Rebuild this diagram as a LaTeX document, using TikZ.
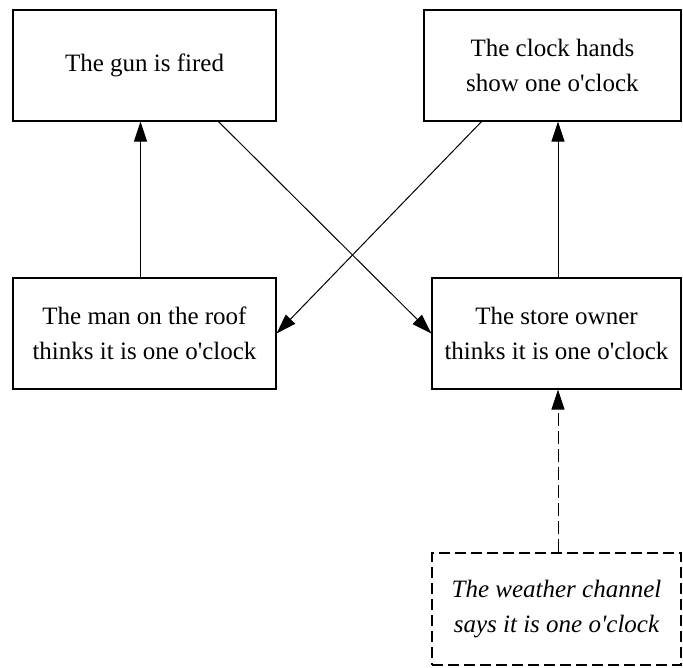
\documentclass[tikz,border=0pt]{standalone}
\usepackage{fontspec}
\setmainfont{Liberation Serif}
\usetikzlibrary{calc,arrows.meta}
\tikzset{
    event/.style={
        draw, rectangle, line width=1.2pt,
        minimum height=111pt, inner sep=0pt,
        align=center, text=black,
        font=\fontsize{25}{35}\selectfont
    },
    report/.style={
        event, dash pattern=on 11pt off 5pt
    }
}

\begin{document}
\begin{tikzpicture}[
        x=1pt, y=-1pt,
        link/.style={line width=1pt, -{Triangle[length=20pt,width=13pt]}}
      ]
  \useasboundingbox (0,0) rectangle (683,667);

  \node[event, minimum width=263pt] (gun)   at (144.5,65.5)  {The gun is fired};
  \node[event, minimum width=257pt] (clock) at (552.5,65.5)  {The clock hands\\show one o\textquotesingle clock};
  \node[event, minimum width=263pt] (roof)  at (144.5,333.5) {The man on the roof\\thinks it is one o\textquotesingle clock};
  \node[event, minimum width=249pt] (owner) at (556.5,333.5) {The store owner\\thinks it is one o\textquotesingle clock};
  \node[report, minimum width=249pt, minimum height=112pt] (weather) at (556.5,609)
      {\itshape The weather channel\\\itshape says it is one o\textquotesingle clock};

  \draw[link] ($(roof.north)+(-4,0)$) -- ($(roof.north |- gun.south)+(-4,0)$);
  \draw[link] ($(owner.north)+(1.5,0)$) -- ($(owner.north |- clock.south)+(1.5,0)$);
  \draw[link] ($(gun.south)!0.56!(gun.south east)$) -- (owner.west);
  \draw[link] ($(clock.south)!0.55!(clock.south west)$) -- (roof.east);
  \draw[link, dash pattern=on 13pt off 5pt] ($(weather.north)+(1.5,0)$) -- ($(owner.south)+(1.5,0)$);

\end{tikzpicture}
\end{document}
